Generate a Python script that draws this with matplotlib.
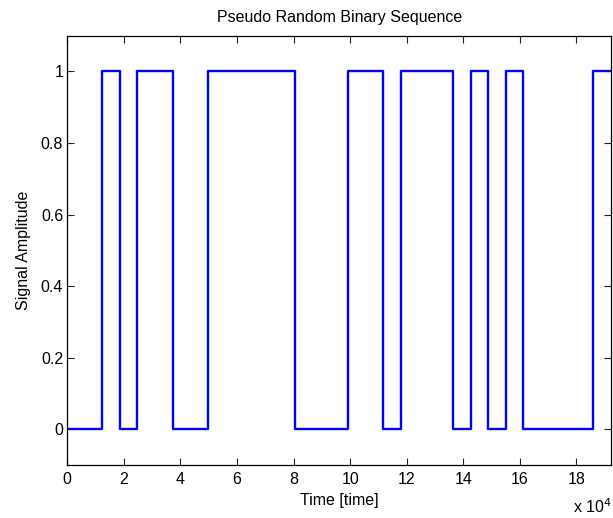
import matplotlib
matplotlib.use('Agg')
import matplotlib.pyplot as plt
import numpy as np

plt.rcParams['font.family'] = ['Liberation Sans', 'DejaVu Sans']

# PRBS: 31 bits, each lasting 6200 time units
bits = [0, 0, 1, 0, 1, 1, 0, 0, 1, 1, 1, 1, 1, 0, 0, 0,
        1, 1, 0, 1, 1, 1, 0, 1, 0, 1, 0, 0, 0, 0, 1]
bit_period = 6200

xticks = [0, 2, 4, 6, 8, 10, 12, 14, 16, 18]
yticks = [0, 0.2, 0.4, 0.6, 0.8, 1]

t = np.arange(len(bits) + 1) * bit_period
y = bits + [bits[-1]]

fs = 11.5

fig = plt.figure(figsize=(6.13, 5.18), dpi=100)
ax = fig.add_axes([0.1098, 0.1023, 0.8869, 0.8288])

ax.step(t, y, where='post', color='#0000ff', linewidth=1.7)

ax.set_xlim(0, t[-1])
ax.set_ylim(-0.1, 1.1)
ax.set_xticks([v * 1e4 for v in xticks])
ax.set_xticklabels([str(v) for v in xticks])
ax.set_yticks(yticks)
ax.set_yticklabels(['0', '0.2', '0.4', '0.6', '0.8', '1'])

ax.tick_params(direction='in', top=True, right=True, length=5,
               width=0.8, labelsize=fs, color='#222222')
ax.tick_params(axis='x', pad=5)
ax.tick_params(axis='y', pad=3)
for s in ax.spines.values():
    s.set_linewidth(0.9)

ax.set_title('Pseudo Random Binary Sequence', fontsize=fs, pad=9.5)
ax.set_xlabel('Time [time]', fontsize=fs, labelpad=4)
ax.set_ylabel('Signal Amplitude', fontsize=fs, labelpad=7)

fig.text(0.934, 0.004, r'x 10$^4$', fontsize=fs, ha='left', va='bottom')

fig.savefig('out.png', dpi=100)
